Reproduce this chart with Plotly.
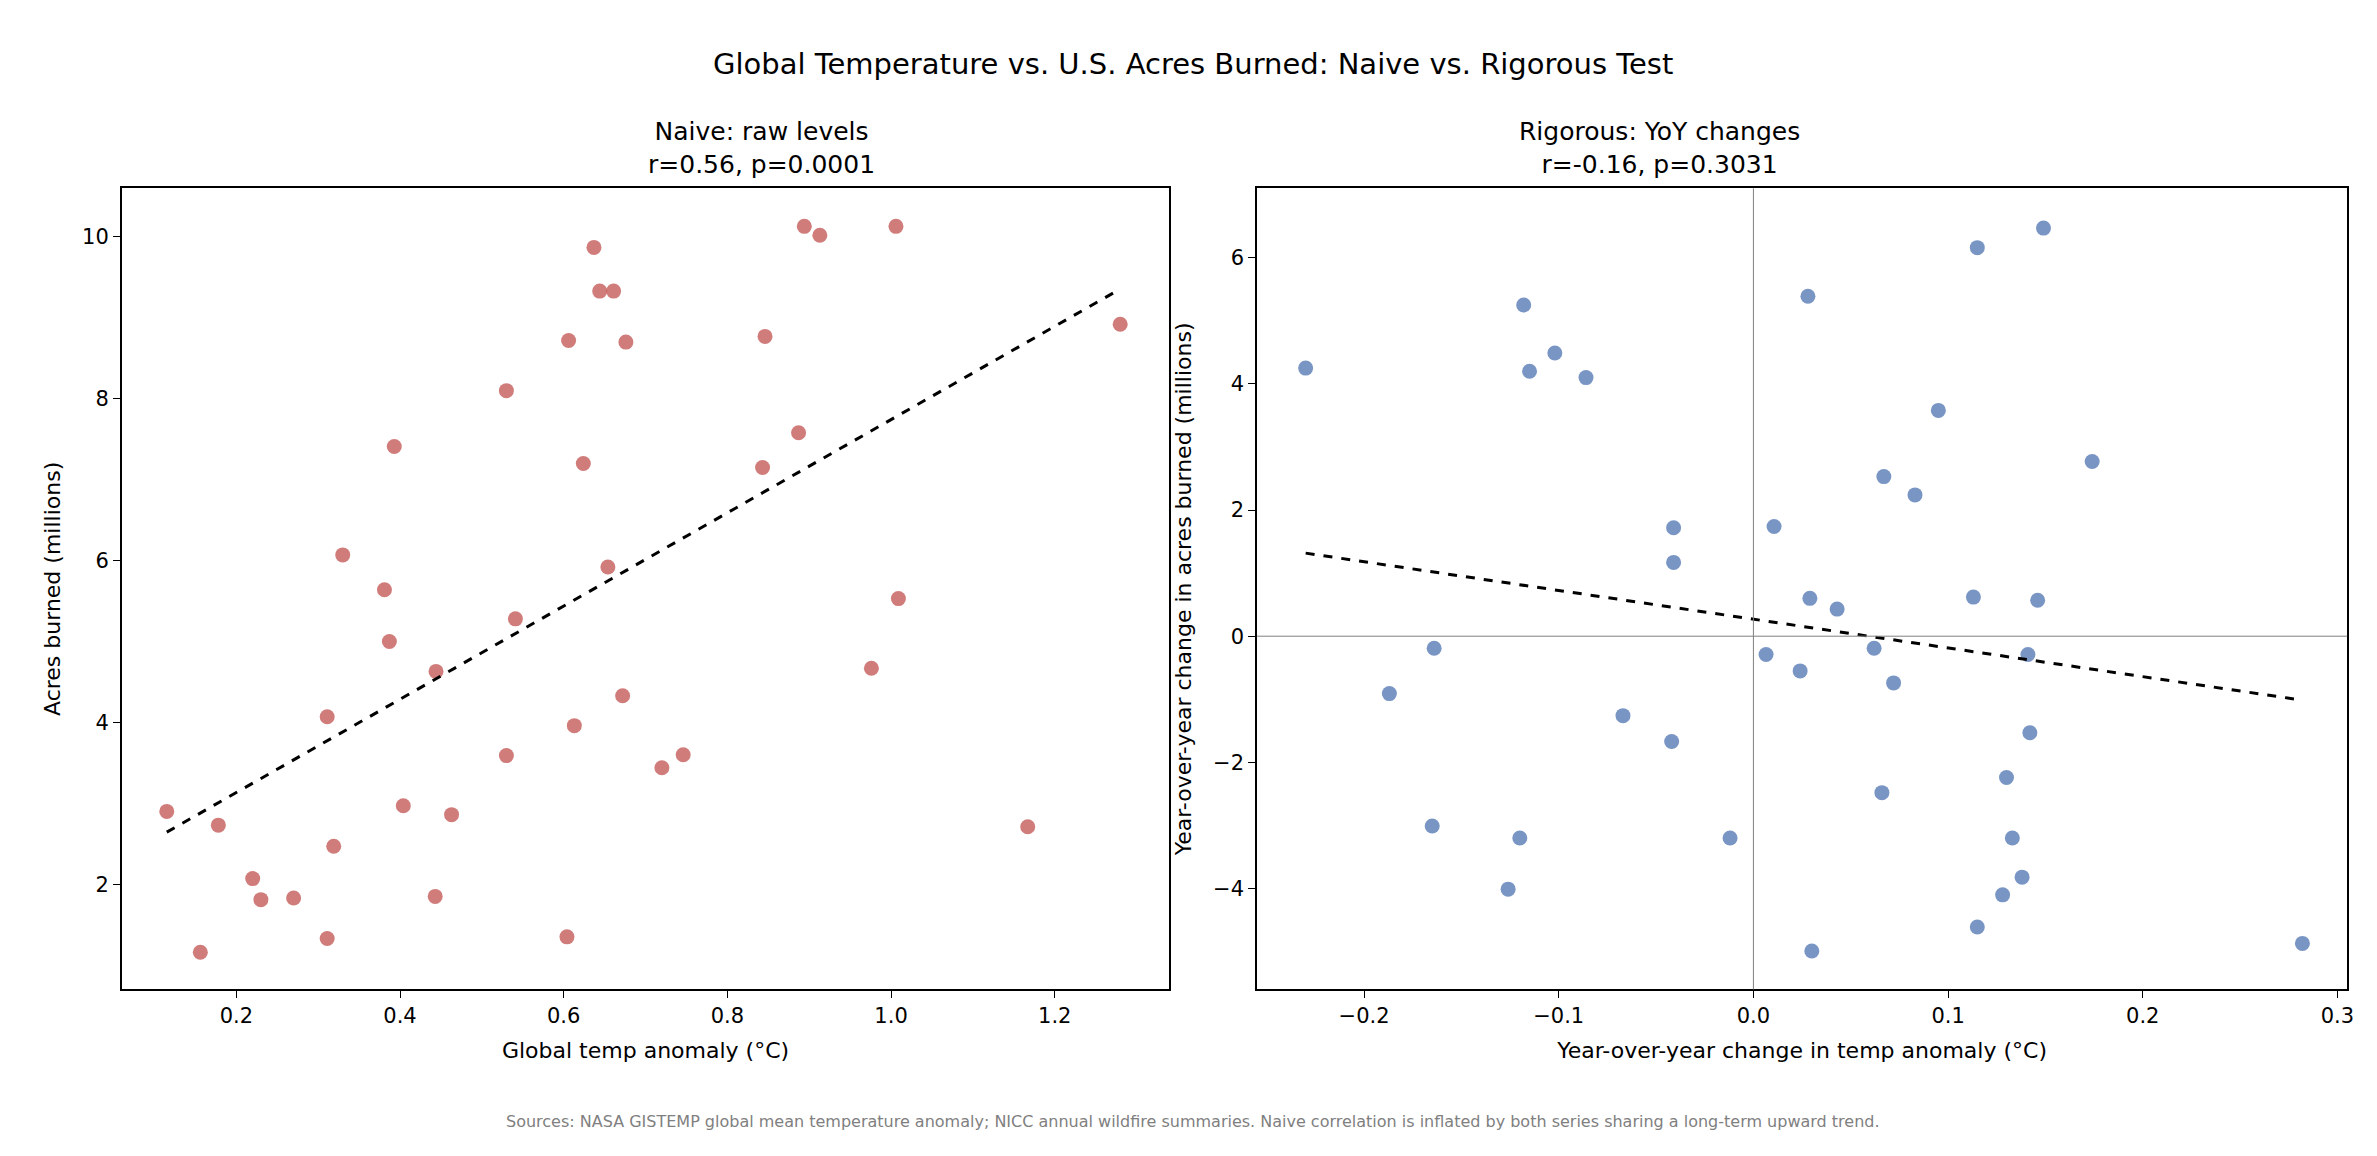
import numpy as np
import plotly.graph_objects as go

naive_x = [0.115,0.178,0.156,0.22,0.23,0.27,0.311,0.311,0.319,0.33,0.381,0.387,0.393,0.404,0.443,0.444,0.463,0.53,0.53,0.541,0.604,0.606,0.613,0.624,0.637,0.644,0.654,0.661,0.672,0.676,0.72,0.746,0.843,0.846,0.887,0.894,0.913,0.976,1.006,1.009,1.167,1.28]
naive_y = [2.90,2.73,1.16,2.07,1.81,1.83,1.33,4.07,2.47,6.07,5.64,5.00,7.41,2.97,1.85,4.63,2.86,8.10,3.59,5.28,1.35,8.72,3.96,7.20,9.87,9.33,5.92,9.33,4.33,8.70,3.44,3.60,7.15,8.77,7.58,10.13,10.02,4.67,10.13,5.53,2.71,8.92]
yoy_x = [-0.230,-0.187,-0.164,-0.165,-0.126,-0.120,-0.118,-0.115,-0.102,-0.086,-0.067,-0.042,-0.041,-0.041,-0.012,0.0065,0.024,0.028,0.0106,0.029,0.030,0.043,0.062,0.066,0.067,0.072,0.083,0.095,0.113,0.115,0.115,0.128,0.130,0.133,0.138,0.141,0.142,0.146,0.149,0.174,0.282]
yoy_y = [4.25,-0.91,-0.19,-3.01,-4.01,-3.20,5.25,4.20,4.49,4.10,-1.26,-1.67,1.72,1.17,-3.20,-0.29,-0.55,5.39,1.74,0.60,-4.99,0.43,-0.19,-2.48,2.53,-0.74,2.24,3.58,0.62,6.16,-4.61,-4.10,-2.24,-3.20,-3.82,-0.29,-1.53,0.57,6.47,2.77,-4.87]

F = "DejaVu Sans"
fig = go.Figure()
fig.add_trace(go.Scatter(x=naive_x, y=naive_y, mode="markers", xaxis="x", yaxis="y",
    marker=dict(size=15, color="rgba(192,80,77,0.75)", line=dict(width=0))))
fig.add_trace(go.Scatter(x=yoy_x, y=yoy_y, mode="markers", xaxis="x2", yaxis="y2",
    marker=dict(size=15, color="rgba(76,114,176,0.75)", line=dict(width=0))))
for xs, ys, ax, ay in [(naive_x, naive_y, "x", "y"), (yoy_x, yoy_y, "x2", "y2")]:
    m, b = np.polyfit(xs, ys, 1)
    lx = np.array([min(xs), max(xs)])
    fig.add_trace(go.Scatter(x=lx, y=m*lx+b, mode="lines", xaxis=ax, yaxis=ay,
        line=dict(color="black", dash="dash", width=3)))

ax_common = dict(showgrid=False, zeroline=False, showline=True, mirror=True, linecolor="black",
                 linewidth=1.5, ticks="outside", ticklen=7, tickcolor="black",
                 tickfont=dict(size=21, family=F, color="black"))
fig.update_layout(
    width=2377, height=1156, plot_bgcolor="white", paper_bgcolor="white", showlegend=False,
    margin=dict(l=0, r=0, t=0, b=0), font=dict(family=F, color="black"),
    xaxis=dict(domain=[0.048, 0.490], range=[0.06, 1.34], dtick=0.2, tickformat=".1f",
               title=dict(text="Global temp anomaly (°C)", font=dict(size=22)), **ax_common),
    yaxis=dict(domain=[0.151, 0.844], range=[0.7, 10.6], dtick=2,
               title=dict(text="Acres burned (millions)", font=dict(size=22)), **ax_common),
    xaxis2=dict(domain=[0.527, 0.987], range=[-0.255, 0.305], dtick=0.1, tickformat=".1f",
                title=dict(text="Year-over-year change in temp anomaly (°C)", font=dict(size=22)), **ax_common),
    yaxis2=dict(domain=[0.151, 0.844], range=[-5.6, 7.1], dtick=2, anchor="x2",
                title=dict(text="Year-over-year change in acres burned (millions)", font=dict(size=22)), **ax_common),
    shapes=[
        dict(type="line", xref="x2", yref="y2 domain", x0=0, x1=0, y0=0, y1=1, line=dict(color="gray", width=1)),
        dict(type="line", xref="x2 domain", yref="y2", x0=0, x1=1, y0=0, y1=0, line=dict(color="gray", width=1)),
    ],
    annotations=[
        dict(text="Global Temperature vs. U.S. Acres Burned: Naive vs. Rigorous Test", x=0.5, y=0.968,
             xref="paper", yref="paper", showarrow=False, font=dict(size=29)),
        dict(text="Naive: raw levels<br>r=0.56, p=0.0001", x=0.269, y=0.850, xref="paper", yref="paper",
             yanchor="bottom", showarrow=False, font=dict(size=25)),
        dict(text="Rigorous: YoY changes<br>r=-0.16, p=0.3031", x=0.757, y=0.850, xref="paper", yref="paper",
             yanchor="bottom", showarrow=False, font=dict(size=25)),
        dict(text="Sources: NASA GISTEMP global mean temperature anomaly; NICC annual wildfire summaries. Naive correlation is inflated by both series sharing a long-term upward trend.",
             x=0.5, y=0.027, xref="paper", yref="paper", showarrow=False, font=dict(size=16, color="gray")),
    ],
)
fig.write_html("out.html")
